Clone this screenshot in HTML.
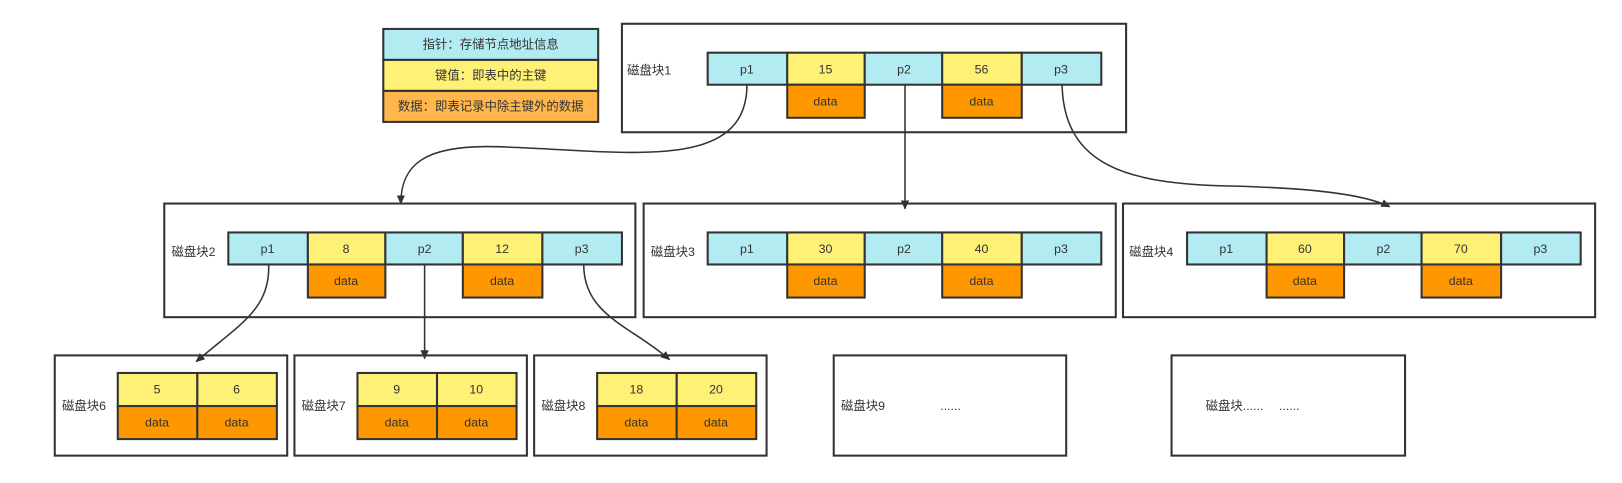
<!DOCTYPE html>
<html><head><meta charset="utf-8"><style>
html,body{margin:0;padding:0;background:#fff;width:1622px;height:483px;overflow:hidden}
text{font-family:"Liberation Sans","Noto Sans CJK SC",sans-serif;font-size:12px;fill:#333}
</style></head><body>
<svg width="1622" height="483" viewBox="0 0 1570 467.5" preserveAspectRatio="none" xmlns="http://www.w3.org/2000/svg">
<defs><marker id="a" markerWidth="10" markerHeight="10" refX="8" refY="5" orient="auto" markerUnits="userSpaceOnUse"><path d="M0,1 L9,5 L0,9 Z" fill="#333"/></marker></defs>
<g stroke="#333" stroke-width="2">
<!-- legend -->
<rect x="371" y="28" width="208" height="30" fill="#b2ebf2"/>
<rect x="371" y="58" width="208" height="30" fill="#fff176"/>
<rect x="371" y="88" width="208" height="30" fill="#ffb74d"/>
<!-- boxes -->
<rect x="602" y="23" width="488" height="105" fill="#fff"/>
<rect x="159" y="197" width="456" height="110" fill="#fff"/>
<rect x="623" y="197" width="457" height="110" fill="#fff"/>
<rect x="1087" y="197" width="457" height="110" fill="#fff"/>
<rect x="53" y="344" width="225" height="97" fill="#fff"/>
<rect x="285" y="344" width="225" height="97" fill="#fff"/>
<rect x="517" y="344" width="225" height="97" fill="#fff"/>
<rect x="807" y="344" width="225" height="97" fill="#fff"/>
<rect x="1134" y="344" width="226" height="97" fill="#fff"/>
<!-- box1 row -->
<rect x="685" y="51" width="77" height="31" fill="#b2ebf2"/><rect x="762" y="51" width="75" height="31" fill="#fff176"/><rect x="837" y="51" width="75" height="31" fill="#b2ebf2"/><rect x="912" y="51" width="77" height="31" fill="#fff176"/><rect x="989" y="51" width="77" height="31" fill="#b2ebf2"/>
<rect x="762" y="82" width="75" height="32" fill="#ff9800"/><rect x="912" y="82" width="77" height="32" fill="#ff9800"/>
<!-- box2 -->
<rect x="221" y="225" width="77" height="31" fill="#b2ebf2"/><rect x="298" y="225" width="75" height="31" fill="#fff176"/><rect x="373" y="225" width="75" height="31" fill="#b2ebf2"/><rect x="448" y="225" width="77" height="31" fill="#fff176"/><rect x="525" y="225" width="77" height="31" fill="#b2ebf2"/>
<rect x="298" y="256" width="75" height="32" fill="#ff9800"/><rect x="448" y="256" width="77" height="32" fill="#ff9800"/>
<!-- box3 -->
<rect x="685" y="225" width="77" height="31" fill="#b2ebf2"/><rect x="762" y="225" width="75" height="31" fill="#fff176"/><rect x="837" y="225" width="75" height="31" fill="#b2ebf2"/><rect x="912" y="225" width="77" height="31" fill="#fff176"/><rect x="989" y="225" width="77" height="31" fill="#b2ebf2"/>
<rect x="762" y="256" width="75" height="32" fill="#ff9800"/><rect x="912" y="256" width="77" height="32" fill="#ff9800"/>
<!-- box4 -->
<rect x="1149" y="225" width="77" height="31" fill="#b2ebf2"/><rect x="1226" y="225" width="75" height="31" fill="#fff176"/><rect x="1301" y="225" width="75" height="31" fill="#b2ebf2"/><rect x="1376" y="225" width="77" height="31" fill="#fff176"/><rect x="1453" y="225" width="77" height="31" fill="#b2ebf2"/>
<rect x="1226" y="256" width="75" height="32" fill="#ff9800"/><rect x="1376" y="256" width="77" height="32" fill="#ff9800"/>
<!-- bottom -->
<rect x="114" y="361" width="77" height="32" fill="#fff176"/><rect x="191" y="361" width="77" height="32" fill="#fff176"/><rect x="114" y="393" width="77" height="32" fill="#ff9800"/><rect x="191" y="393" width="77" height="32" fill="#ff9800"/>
<rect x="346" y="361" width="77" height="32" fill="#fff176"/><rect x="423" y="361" width="77" height="32" fill="#fff176"/><rect x="346" y="393" width="77" height="32" fill="#ff9800"/><rect x="423" y="393" width="77" height="32" fill="#ff9800"/>
<rect x="578" y="361" width="77" height="32" fill="#fff176"/><rect x="655" y="361" width="77" height="32" fill="#fff176"/><rect x="578" y="393" width="77" height="32" fill="#ff9800"/><rect x="655" y="393" width="77" height="32" fill="#ff9800"/>
</g>
<g stroke="#333" stroke-width="1.5" fill="none" marker-end="url(#a)">
<path d="M723,82 C723,170 600,145 480,142 C410,140 388,160 388,197"/>
<path d="M876,82 L876,202"/>
<path d="M1028,82 C1030,160 1090,178 1190,180 C1270,182 1320,188 1345,200"/>
<path d="M260,256 C262,300 230,315 190,350"/>
<path d="M411,256 L411,347"/>
<path d="M565,256 C565,305 610,315 648,348"/>
</g>
<g text-anchor="middle">
<text x="475" y="47">指针：存储节点地址信息</text>
<text x="475" y="77">键值：即表中的主键</text>
<text x="475" y="107">数据：即表记录中除主键外的数据</text>
<text x="723" y="71">p1</text><text x="799" y="71">15</text><text x="875" y="71">p2</text><text x="950" y="71">56</text><text x="1027" y="71">p3</text>
<text x="799" y="102">data</text><text x="950" y="102">data</text>
<text x="259" y="245">p1</text><text x="335" y="245">8</text><text x="411" y="245">p2</text><text x="486" y="245">12</text><text x="563" y="245">p3</text>
<text x="335" y="276">data</text><text x="486" y="276">data</text>
<text x="723" y="245">p1</text><text x="799" y="245">30</text><text x="875" y="245">p2</text><text x="950" y="245">40</text><text x="1027" y="245">p3</text>
<text x="799" y="276">data</text><text x="950" y="276">data</text>
<text x="1187" y="245">p1</text><text x="1263" y="245">60</text><text x="1339" y="245">p2</text><text x="1414" y="245">70</text><text x="1491" y="245">p3</text>
<text x="1263" y="276">data</text><text x="1414" y="276">data</text>
<text x="152" y="381">5</text><text x="229" y="381">6</text><text x="152" y="413">data</text><text x="229" y="413">data</text>
<text x="384" y="381">9</text><text x="461" y="381">10</text><text x="384" y="413">data</text><text x="461" y="413">data</text>
<text x="616" y="381">18</text><text x="693" y="381">20</text><text x="616" y="413">data</text><text x="693" y="413">data</text>
</g>
<text x="607" y="72">磁盘块1</text>
<text x="166" y="248">磁盘块2</text>
<text x="630" y="248">磁盘块3</text>
<text x="1093" y="248">磁盘块4</text>
<text x="60" y="397">磁盘块6</text>
<text x="292" y="397">磁盘块7</text>
<text x="524" y="397">磁盘块8</text>
<text x="814" y="397">磁盘块9</text>
<text x="910" y="397">......</text>
<text x="1167" y="397">磁盘块......</text>
<text x="1238" y="397">......</text>
</svg>
</body></html>
